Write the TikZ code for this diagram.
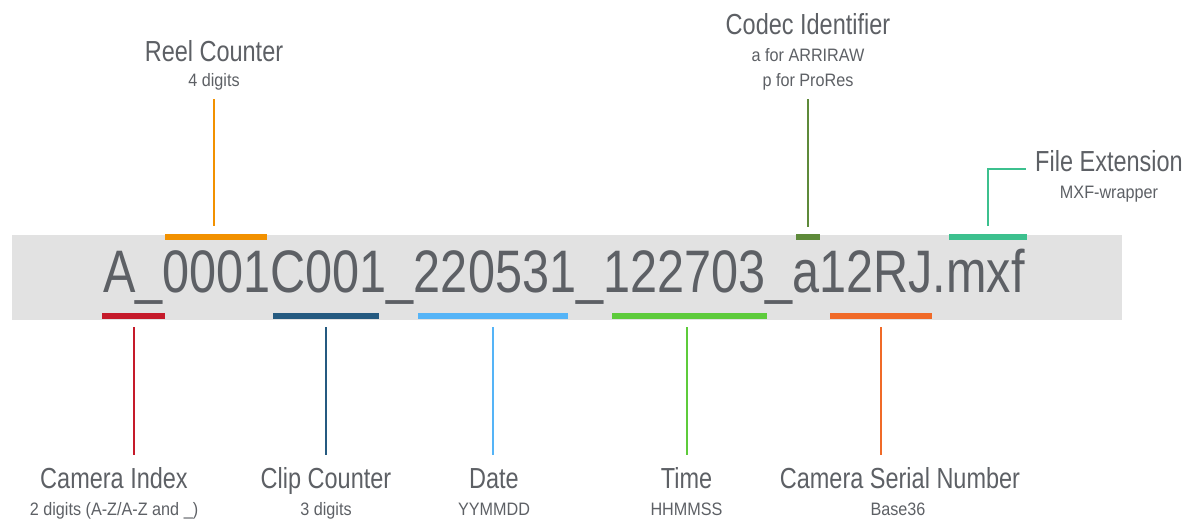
\documentclass[tikz,border=0pt]{standalone}
\usepackage{fontspec}
\setmainfont{Liberation Sans}[FakeStretch=0.81]
\newfontfamily\subfont{Liberation Sans}[FakeStretch=0.9]
\usetikzlibrary{positioning}

\definecolor{txtgray}{HTML}{5D6065}
\definecolor{bandgray}{HTML}{E2E2E2}
\definecolor{reelc}{HTML}{F29100}
\definecolor{codecc}{HTML}{5E8A3A}
\definecolor{extc}{HTML}{3CC08E}
\definecolor{camc}{HTML}{C51A2A}
\definecolor{clipc}{HTML}{255A80}
\definecolor{datec}{HTML}{55B4F7}
\definecolor{timec}{HTML}{5DCB3B}
\definecolor{serialc}{HTML}{F06A28}

\begin{document}
\begin{tikzpicture}[x=1pt, y=1pt]
\tikzstyle{title}=[inner sep=0pt, anchor=base, text=txtgray, font=\fontsize{29}{34}\selectfont]
\tikzstyle{sub}=[inner sep=0pt, anchor=base, text=txtgray, font=\subfont\fontsize{18}{21}\selectfont]
\tikzstyle{bar}=[rectangle, inner sep=0pt, minimum height=6pt]
\tikzstyle{lead}=[line width=2pt]
    \useasboundingbox (0,0) rectangle (1192,519);
    % file name on its grey band
    \node[fill=bandgray, inner sep=0pt, minimum width=1110pt, minimum height=85pt] (band) at (567,241.5) {};
    \node[inner sep=0pt, anchor=base, text=txtgray, font=\fontsize{60}{72}\selectfont] (fname) at (564,226) {A\_0001C001\_220531\_122703\_a12RJ.mxf};
    % markers above
    \node[bar, fill=reelc, minimum width=102pt] (reelbar) at (216,282) {};
    \node[bar, fill=codecc, minimum width=24pt] (codecbar) at (808,282) {};
    \node[bar, fill=extc, minimum width=78pt] (extbar) at (988,282) {};
    % markers below
    \node[bar, fill=camc, minimum width=63pt] (cambar) at (133.5,203) {};
    \node[bar, fill=clipc, minimum width=106pt] (clipbar) at (326,203) {};
    \node[bar, fill=datec, minimum width=150pt] (datebar) at (493,203) {};
    \node[bar, fill=timec, minimum width=155pt] (timebar) at (689.5,203) {};
    \node[bar, fill=serialc, minimum width=102pt] (serialbar) at (881,203) {};
    % labels above
    \node[title] (reel) at (214,457) {Reel Counter};
    \node[sub] (reelsub) at (214,432) {4 digits};
    \node[title] (codec) at (808,484) {Codec Identifier};
    \node[sub] (codecsuba) at (808,457) {a for ARRIRAW};
    \node[sub] (codecsubb) at (808,432) {p for ProRes};
    \node[title] (ext) at (1109,347) {File Extension};
    \node[sub] (extsub) at (1109,320) {MXF-wrapper};
    % labels below
    \node[title] (cam) at (114,30) {Camera Index};
    \node[sub] (camsub) at (114,3) {2 digits (A-Z/A-Z and \_)};
    \node[title] (clip) at (326,30) {Clip Counter};
    \node[sub] (clipsub) at (326,3) {3 digits};
    \node[title] (date) at (494,30) {Date};
    \node[sub] (datesub) at (494,3) {YYMMDD};
    \node[title] (time) at (686.5,30) {Time};
    \node[sub] (timesub) at (686.5,3) {HHMMSS};
    \node[title] (serial) at (900,30) {Camera Serial Number};
    \node[sub] (serialsub) at (898,3) {Base36};
    % leaders
    \draw[lead, reelc, shorten <=8pt, shorten >=12pt] (reelsub.base |- reelbar.north) -- (reelsub.base);
    \draw[lead, codecc, shorten <=7pt, shorten >=12pt] (codecbar.north) -- (codecsubb.base);
    \draw[lead, extc, shorten <=8pt, shorten >=9pt] (extbar.north) |- (ext.mid west);
    \draw[lead, camc, shorten <=8pt, shorten >=34pt] (cambar.south) -- (cambar.south |- cam.base);
    \draw[lead, clipc, shorten <=8pt, shorten >=34pt] (clipbar.south -| clip.base) -- (clip.base);
    \draw[lead, datec, shorten <=8pt, shorten >=34pt] (datebar.south) -- (datebar.south |- date.base);
    \draw[lead, timec, shorten <=8pt, shorten >=34pt] (timebar.south -| time.base) -- (time.base);
    \draw[lead, serialc, shorten <=8pt, shorten >=34pt] (serialbar.south) -- (serialbar.south |- serial.base);
\end{tikzpicture}
\end{document}
